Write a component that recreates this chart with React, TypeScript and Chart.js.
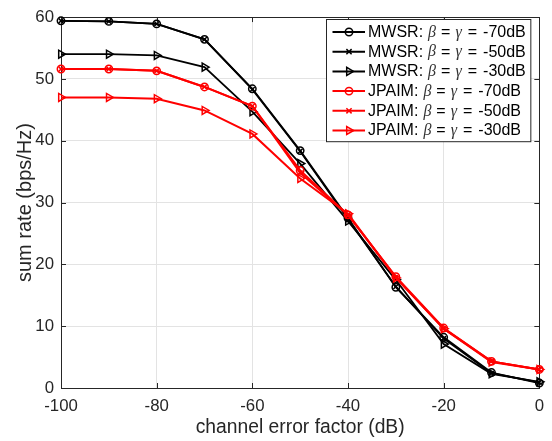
import React, { useEffect, useRef } from "react";
import { Chart, registerables } from "chart.js";

Chart.register(...registerables);

const xValues = [-100, -90, -80, -70, -60, -50, -40, -30, -20, -10, 0];

const mwsr70 = [59.4, 59.3, 58.9, 56.4, 48.4, 38.4, 27.5, 16.3, 8.2, 2.5, 0.8];
const mwsr50 = [59.4, 59.3, 58.9, 56.4, 48.3, 38.3, 27.3, 16.4, 8.0, 2.4, 0.9];
const mwsr30 = [54.0, 54.0, 53.8, 51.9, 44.7, 36.3, 27.0, 17.5, 7.1, 2.3, 1.0];
const jpaim70 = [51.6, 51.6, 51.3, 48.7, 45.6, 35.2, 28.0, 18.0, 9.7, 4.3, 3.0];
const jpaim50 = [51.6, 51.6, 51.3, 48.7, 45.6, 34.8, 28.0, 17.9, 9.6, 4.3, 3.0];
const jpaim30 = [47.0, 47.0, 46.8, 44.9, 41.1, 33.9, 28.2, 17.8, 9.6, 4.2, 3.0];

const seriesPrefix = ["MWSR", "MWSR", "MWSR", "JPAIM", "JPAIM", "JPAIM"];
const seriesLevel = ["-70", "-50", "-30", "-70", "-50", "-30"];
const seriesData = [mwsr70, mwsr50, mwsr30, jpaim70, jpaim50, jpaim30];
const seriesColor = ["#000000", "#000000", "#000000", "#ff0000", "#ff0000", "#ff0000"];
const seriesMarker = ["circle", "crossRot", "triangle", "circle", "crossRot", "triangle"];

const xTicks = [-100, -80, -60, -40, -20, 0];
const yTicks = [0, 10, 20, 30, 40, 50, 60];

const SANS = "'Liberation Sans', Arial, Helvetica, sans-serif";
const SERIF = "'Liberation Serif', 'Times New Roman', serif";
const AXIS = "#262626";

function drawMarker(ctx: CanvasRenderingContext2D, kind: string, x: number, y: number, color: string) {
  ctx.save();
  ctx.strokeStyle = color;
  ctx.lineWidth = 1.5;
  ctx.beginPath();
  if (kind === "circle") {
    ctx.arc(x, y, 3.7, 0, Math.PI * 2);
  } else if (kind === "crossRot") {
    const r = 2.6;
    ctx.moveTo(x - r, y - r);
    ctx.lineTo(x + r, y + r);
    ctx.moveTo(x - r, y + r);
    ctx.lineTo(x + r, y - r);
  } else {
    const r = 4.6;
    for (let k = 0; k < 3; k++) {
      const a = (k * 2 * Math.PI) / 3;
      const px = x + Math.cos(a) * r;
      const py = y + Math.sin(a) * r;
      if (k === 0) ctx.moveTo(px, py);
      else ctx.lineTo(px, py);
    }
    ctx.closePath();
  }
  ctx.stroke();
  ctx.restore();
}

const framePlugin = {
  id: "matlabFrame",
  beforeDatasetsDraw(chart: any) {
    const { ctx, chartArea: a, scales } = chart;
    ctx.save();
    ctx.strokeStyle = AXIS;
    ctx.lineWidth = 1;
    const tl = 5;
    ctx.beginPath();
    for (const v of xTicks) {
      const px = Math.round(scales.x.getPixelForValue(v)) + 0.5;
      ctx.moveTo(px, a.bottom);
      ctx.lineTo(px, a.bottom - tl);
      ctx.moveTo(px, a.top);
      ctx.lineTo(px, a.top + tl);
    }
    for (const v of yTicks) {
      const py = Math.round(scales.y.getPixelForValue(v)) + 0.5;
      ctx.moveTo(a.left, py);
      ctx.lineTo(a.left + tl, py);
      ctx.moveTo(a.right, py);
      ctx.lineTo(a.right - tl, py);
    }
    ctx.stroke();
    ctx.strokeRect(Math.round(a.left) + 0.5, Math.round(a.top) + 0.5, Math.round(a.right - a.left), Math.round(a.bottom - a.top));
    ctx.restore();
  },
  afterDraw(chart: any) {
    const ctx: CanvasRenderingContext2D = chart.ctx;
    const a = chart.chartArea;
    const boxRight = a.right - 8.5;
    const boxLeft = 326.5;
    const boxTop = 19.5;
    const rowH = 19.7;
    const boxBottom = boxTop + rowH * 6 + 4;
    ctx.save();
    ctx.fillStyle = "#ffffff";
    ctx.fillRect(boxLeft, boxTop, boxRight - boxLeft, boxBottom - boxTop);
    ctx.strokeStyle = AXIS;
    ctx.lineWidth = 1;
    ctx.strokeRect(boxLeft, boxTop, boxRight - boxLeft, boxBottom - boxTop);
    const sansFont = "16px " + SANS;
    const greekFont = "italic 16px " + SERIF;
    for (let i = 0; i < 6; i++) {
      const cy = boxTop + 12.5 + i * rowH;
      const color = seriesColor[i];
      ctx.strokeStyle = color;
      ctx.lineWidth = 2;
      ctx.beginPath();
      ctx.moveTo(boxLeft + 6, cy);
      ctx.lineTo(boxLeft + 38.5, cy);
      ctx.stroke();
      drawMarker(ctx, seriesMarker[i], boxLeft + 22.5, cy, color);
      const segs = [
        { t: seriesPrefix[i] + ":", f: sansFont, c: "#000000", g: 5 },
        { t: "\u03B2", f: greekFont, c: "#333333", g: 5 },
        { t: "=", f: sansFont, c: "#000000", g: 5 },
        { t: "\u03B3", f: greekFont, c: "#333333", g: 6 },
        { t: "=", f: sansFont, c: "#000000", g: 6 },
        { t: seriesLevel[i] + "dB", f: sansFont, c: "#000000", g: 0 },
      ];
      let x = boxLeft + 41.5;
      ctx.textBaseline = "middle";
      ctx.textAlign = "left";
      for (const s of segs) {
        ctx.font = s.f;
        ctx.fillStyle = s.c;
        ctx.fillText(s.t, x, cy + 0.5);
        x += ctx.measureText(s.t).width + s.g;
      }
    }
    ctx.restore();
  },
};

export default function App() {
  const ref = useRef<HTMLCanvasElement | null>(null);
  useEffect(() => {
    if (!ref.current) return;
    const datasets = seriesData.map((d, i) => ({
      label: seriesPrefix[i] + ": \u03B2 = \u03B3 = " + seriesLevel[i] + "dB",
      data: xValues.map((x, j) => ({ x, y: d[j] })),
      borderColor: seriesColor[i],
      backgroundColor: "rgba(0,0,0,0)",
      borderWidth: i < 3 ? 1.8 : 2,
      pointStyle: seriesMarker[i],
      pointRadius: seriesMarker[i] === "triangle" ? 4.6 : seriesMarker[i] === "circle" ? 3.7 : 3.4,
      pointRotation: seriesMarker[i] === "triangle" ? 90 : 0,
      pointBorderWidth: 1.5,
      pointBorderColor: seriesColor[i],
      pointBackgroundColor: "rgba(0,0,0,0)",
      order: 5 - i,
      tension: 0,
      clip: false,
    }));
    const chart = new Chart(ref.current, {
      type: "line",
      data: { datasets },
      options: {
        animation: false,
        responsive: false,
        devicePixelRatio: 1,
        layout: { padding: { top: 11, right: 11, left: 0, bottom: 0 } },
        scales: {
          x: {
            type: "linear",
            min: -100,
            max: 0,
            ticks: { stepSize: 20, font: { family: SANS, size: 16.8 }, color: AXIS, padding: 8 },
            grid: { color: "#e3e3e3", drawTicks: false, lineWidth: 1 },
            border: { display: false },
            title: {
              display: true,
              text: "channel error factor (dB)",
              font: { family: SANS, size: 19.3 },
              color: AXIS,
              padding: { top: 0, bottom: 2 },
            },
            afterFit(s: any) {
              s.height = 53;
            },
          },
          y: {
            type: "linear",
            min: 0,
            max: 60,
            ticks: { stepSize: 10, font: { family: SANS, size: 16.8 }, color: AXIS, padding: 7 },
            grid: { color: "#e3e3e3", drawTicks: false, lineWidth: 1 },
            border: { display: false },
            title: {
              display: true,
              text: "sum rate (bps/Hz)",
              font: { family: SANS, size: 20 },
              color: AXIS,
              padding: { top: 13, bottom: 0 },
            },
            afterFit(s: any) {
              s.width = 61;
            },
          },
        },
        plugins: { legend: { display: false }, tooltip: { enabled: false } },
      },
      plugins: [framePlugin],
    } as any);
    return () => chart.destroy();
  }, []);
  return (
    <div style={{ position: "fixed", left: 0, top: 0, width: 552, height: 441, background: "#fff" }}>
      <canvas ref={ref} width={552} height={441} style={{ width: 552, height: 441, display: "block" }} />
    </div>
  );
}
